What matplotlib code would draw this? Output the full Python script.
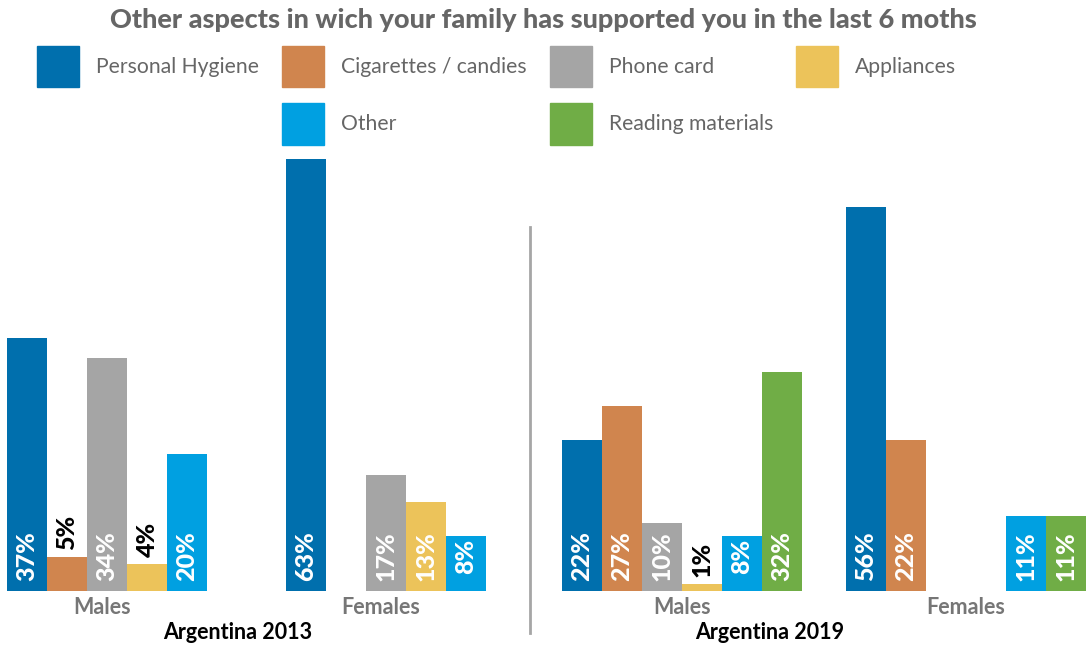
import os
import numpy as np
import matplotlib.pyplot as plt
import matplotlib.transforms as mtransforms
from matplotlib import font_manager
from matplotlib.font_manager import FontProperties
from matplotlib.patches import Rectangle
from matplotlib.lines import Line2D

plt.rcParams['font.family'] = 'Lato'

categories = ['Personal Hygiene', 'Cigarettes / candies', 'Phone card',
              'Appliances', 'Other', 'Reading materials']
colors = ['#006FAD', '#D0854E', '#A5A5A5', '#ECC35A', '#00A0E1', '#70AD46']
groups = ['Males', 'Females']

# 2013 survey had no "Reading materials" option
males_2013 = [37, 5, 34, 4, 20]
females_2013 = [63, None, 17, 13, 8]
males_2019 = [22, 27, 10, 1, 8, 32]
females_2019 = [56, 22, None, None, 11, 11]


def lato(style, size, fallback_weight):
    # pick the exact Lato cut by file name, weight matching alone is unreliable
    for f in font_manager.fontManager.ttflist:
        if os.path.basename(f.fname).lower() == f'lato-{style}.ttf'.lower():
            return FontProperties(fname=f.fname, size=size)
    return FontProperties(family='Lato', weight=fallback_weight, size=size)


fp_value = lato('Black', 18, 'black')
fp_title = lato('Black', 19.5, 'black')
fp_group = lato('Bold', 15.5, 'bold')

fig = plt.figure(figsize=(10.86, 6.47), dpi=100)
W, H = 1086, 647
base = 591
scale = 6.85  # px per percentage point
bottom = (H - base) / H
height = (base - 150) / H

ax1 = fig.add_axes([0, bottom, 530 / W, height])
ax2 = fig.add_axes([540 / W, bottom, 546 / W, height])


def draw_panel(ax, series, ncat, width, xlim, xlabel, label_x, tick_shift):
    x = np.arange(len(groups))
    for i in range(ncat):
        offset = (i - (ncat - 1) / 2) * width
        for g, vals in enumerate(series):
            v = vals[i]
            if v is None:
                continue
            xb = x[g] + offset
            ax.bar(xb, v, width, color=colors[i], linewidth=0)
            if v > 5:
                ax.annotate(f'{v}%', (xb, 0), xytext=(0, 25), textcoords='offset points',
                            rotation=90, ha='center', va='center', color='white',
                            fontproperties=fp_value)
            else:
                ax.annotate(f'{v}%', (xb, v), xytext=(0, 5), textcoords='offset points',
                            rotation=90, ha='center', va='bottom', color='black',
                            fontproperties=fp_value)
    ax.set_xlim(*xlim)
    ax.set_ylim(0, (base - 150) / scale)
    ax.set_xticks(x)
    ax.set_xticklabels(groups, fontproperties=fp_group, color='#767676')
    ax.tick_params(axis='x', length=0, pad=4)
    shift = mtransforms.ScaledTranslation(tick_shift / 100, 0, fig.dpi_scale_trans)
    for lbl in ax.get_xticklabels():
        lbl.set_transform(lbl.get_transform() + shift)
    ax.set_yticks([])
    for s in ax.spines.values():
        s.set_visible(False)
    ax.set_xlabel(xlabel, fontproperties=fp_group, color='black')
    ax.xaxis.set_label_coords(label_x, -0.095)
    ax.xaxis.label.set_va('center')


w1 = 40 / 279
draw_panel(ax1, [males_2013, females_2013], 5, w1,
           ((0 - 107) / 279, (530 - 107) / 279), 'Argentina 2013', 238 / 530, -5)
w2 = 40 / 284
draw_panel(ax2, [males_2019, females_2019], 6, w2,
           ((540 - 682) / 284, (1086 - 682) / 284), 'Argentina 2019', (770 - 540) / 546, 0)

# divider between the two surveys
fig.add_artist(Line2D([530 / W, 530 / W], [1 - 227 / H, 1 - 633 / H],
                      color='#A6A6A6', linewidth=2))

fig.text(0.5, 1 - 20 / H, 'Other aspects in wich your family has supported you in the last 6 moths',
         ha='center', va='center', fontproperties=fp_title, color='#666666')

# legend laid out in 4 columns, second row starting under the second column
handles = {c: Rectangle((0, 0), 1, 1, color=col) for c, col in zip(categories, colors)}
blank = Rectangle((0, 0), 1, 1, visible=False)
order = [(handles['Personal Hygiene'], 'Personal Hygiene'), (blank, ''),
         (handles['Cigarettes / candies'], 'Cigarettes / candies'), (handles['Other'], 'Other'),
         (handles['Phone card'], 'Phone card'), (handles['Reading materials'], 'Reading materials'),
         (handles['Appliances'], 'Appliances'), (blank, '')]
fs = 15.2
fig.legend([h for h, _ in order], [l for _, l in order], ncol=4, loc='upper left',
           bbox_to_anchor=(37 / W, 1 - 46 / H), frameon=False, fontsize=fs,
           labelcolor='#666666', handlelength=42 / (fs * 100 / 72),
           handleheight=2.63, handletextpad=0.8, columnspacing=1.1,
           labelspacing=0.76, borderpad=0, borderaxespad=0)

fig.savefig('out.png', dpi=100)
